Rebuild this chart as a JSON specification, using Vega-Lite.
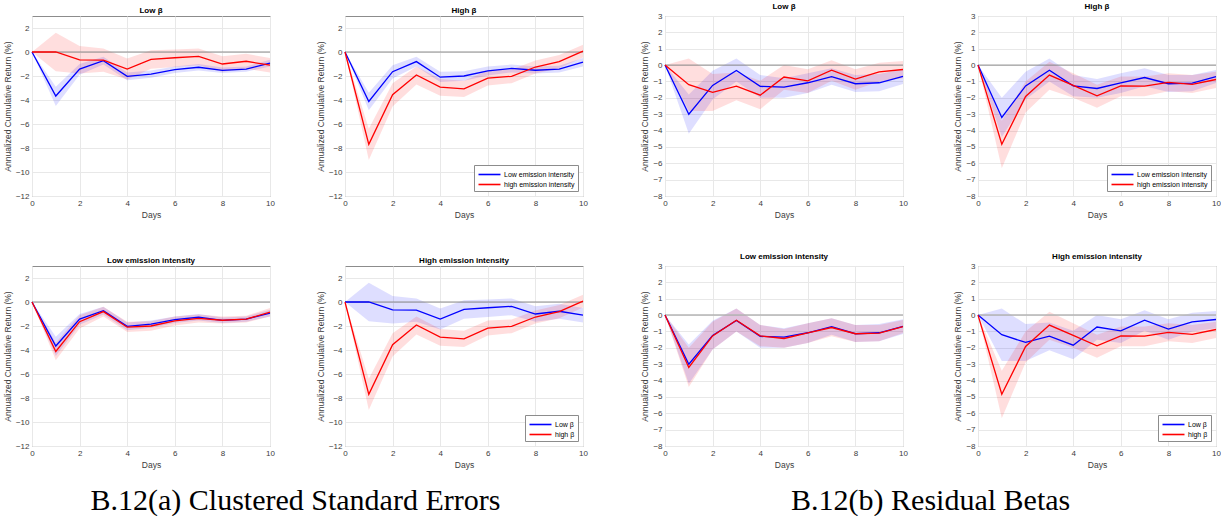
{
  "$schema": "https://vega.github.io/schema/vega-lite/v6.json",
  "padding": {"left": 2, "top": 2, "right": 0, "bottom": 0},
  "datasets": {
    "a": [
      {"beta": "Low β", "emis": "Low emission intensity", "day": 0, "m": 0, "lo": 0, "hi": 0},
      {"beta": "Low β", "emis": "Low emission intensity", "day": 1, "m": -3.67, "lo": -4.5, "hi": -2.9},
      {"beta": "Low β", "emis": "Low emission intensity", "day": 2, "m": -1.43, "lo": -1.9, "hi": -1.0},
      {"beta": "Low β", "emis": "Low emission intensity", "day": 3, "m": -0.73, "lo": -1.05, "hi": -0.4},
      {"beta": "Low β", "emis": "Low emission intensity", "day": 4, "m": -2.03, "lo": -2.35, "hi": -1.7},
      {"beta": "Low β", "emis": "Low emission intensity", "day": 5, "m": -1.85, "lo": -2.15, "hi": -1.55},
      {"beta": "Low β", "emis": "Low emission intensity", "day": 6, "m": -1.47, "lo": -1.75, "hi": -1.2},
      {"beta": "Low β", "emis": "Low emission intensity", "day": 7, "m": -1.27, "lo": -1.55, "hi": -1.0},
      {"beta": "Low β", "emis": "Low emission intensity", "day": 8, "m": -1.53, "lo": -1.75, "hi": -1.3},
      {"beta": "Low β", "emis": "Low emission intensity", "day": 9, "m": -1.43, "lo": -1.65, "hi": -1.2},
      {"beta": "Low β", "emis": "Low emission intensity", "day": 10, "m": -0.93, "lo": -1.2, "hi": -0.65},
      {"beta": "Low β", "emis": "high emission intensity", "day": 0, "m": 0, "lo": 0, "hi": 0},
      {"beta": "Low β", "emis": "high emission intensity", "day": 1, "m": 0.0, "lo": -1.6, "hi": 1.6},
      {"beta": "Low β", "emis": "high emission intensity", "day": 2, "m": -0.65, "lo": -1.8, "hi": 0.5},
      {"beta": "Low β", "emis": "high emission intensity", "day": 3, "m": -0.67, "lo": -1.65, "hi": 0.3},
      {"beta": "Low β", "emis": "high emission intensity", "day": 4, "m": -1.42, "lo": -2.3, "hi": -0.55},
      {"beta": "Low β", "emis": "high emission intensity", "day": 5, "m": -0.61, "lo": -1.4, "hi": 0.15},
      {"beta": "Low β", "emis": "high emission intensity", "day": 6, "m": -0.48, "lo": -1.25, "hi": 0.2},
      {"beta": "Low β", "emis": "high emission intensity", "day": 7, "m": -0.36, "lo": -1.1, "hi": 0.3},
      {"beta": "Low β", "emis": "high emission intensity", "day": 8, "m": -1.0, "lo": -1.65, "hi": -0.35},
      {"beta": "Low β", "emis": "high emission intensity", "day": 9, "m": -0.77, "lo": -1.4, "hi": -0.15},
      {"beta": "Low β", "emis": "high emission intensity", "day": 10, "m": -1.1, "lo": -1.7, "hi": -0.5},
      {"beta": "high β", "emis": "Low emission intensity", "day": 0, "m": 0, "lo": 0, "hi": 0},
      {"beta": "high β", "emis": "Low emission intensity", "day": 1, "m": -4.12, "lo": -4.85, "hi": -3.4},
      {"beta": "high β", "emis": "Low emission intensity", "day": 2, "m": -1.64, "lo": -2.2, "hi": -1.1},
      {"beta": "high β", "emis": "Low emission intensity", "day": 3, "m": -0.8, "lo": -1.2, "hi": -0.4},
      {"beta": "high β", "emis": "Low emission intensity", "day": 4, "m": -2.1, "lo": -2.5, "hi": -1.65},
      {"beta": "high β", "emis": "Low emission intensity", "day": 5, "m": -2.0, "lo": -2.4, "hi": -1.6},
      {"beta": "high β", "emis": "Low emission intensity", "day": 6, "m": -1.58, "lo": -1.95, "hi": -1.2},
      {"beta": "high β", "emis": "Low emission intensity", "day": 7, "m": -1.37, "lo": -1.7, "hi": -1.05},
      {"beta": "high β", "emis": "Low emission intensity", "day": 8, "m": -1.52, "lo": -1.8, "hi": -1.2},
      {"beta": "high β", "emis": "Low emission intensity", "day": 9, "m": -1.43, "lo": -1.7, "hi": -1.15},
      {"beta": "high β", "emis": "Low emission intensity", "day": 10, "m": -0.85, "lo": -1.2, "hi": -0.5},
      {"beta": "high β", "emis": "high emission intensity", "day": 0, "m": 0, "lo": 0, "hi": 0},
      {"beta": "high β", "emis": "high emission intensity", "day": 1, "m": -7.7, "lo": -9.0, "hi": -6.4},
      {"beta": "high β", "emis": "high emission intensity", "day": 2, "m": -3.56, "lo": -4.55, "hi": -2.6},
      {"beta": "high β", "emis": "high emission intensity", "day": 3, "m": -1.92, "lo": -2.7, "hi": -1.2},
      {"beta": "high β", "emis": "high emission intensity", "day": 4, "m": -2.92, "lo": -3.65, "hi": -2.25},
      {"beta": "high β", "emis": "high emission intensity", "day": 5, "m": -3.08, "lo": -3.75, "hi": -2.4},
      {"beta": "high β", "emis": "high emission intensity", "day": 6, "m": -2.17, "lo": -2.8, "hi": -1.55},
      {"beta": "high β", "emis": "high emission intensity", "day": 7, "m": -2.03, "lo": -2.6, "hi": -1.45},
      {"beta": "high β", "emis": "high emission intensity", "day": 8, "m": -1.25, "lo": -1.8, "hi": -0.7},
      {"beta": "high β", "emis": "high emission intensity", "day": 9, "m": -0.8, "lo": -1.35, "hi": -0.25},
      {"beta": "high β", "emis": "high emission intensity", "day": 10, "m": 0.08, "lo": -0.45, "hi": 0.6}
    ],
    "b": [
      {"beta": "Low β", "emis": "Low emission intensity", "day": 0, "m": 0, "lo": 0, "hi": 0},
      {"beta": "Low β", "emis": "Low emission intensity", "day": 1, "m": -3.0, "lo": -4.2, "hi": -1.8},
      {"beta": "Low β", "emis": "Low emission intensity", "day": 2, "m": -1.24, "lo": -2.1, "hi": -0.35},
      {"beta": "Low β", "emis": "Low emission intensity", "day": 3, "m": -0.33, "lo": -1.0, "hi": 0.4},
      {"beta": "Low β", "emis": "Low emission intensity", "day": 4, "m": -1.3, "lo": -2.0, "hi": -0.6},
      {"beta": "Low β", "emis": "Low emission intensity", "day": 5, "m": -1.35, "lo": -2.0, "hi": -0.8},
      {"beta": "Low β", "emis": "Low emission intensity", "day": 6, "m": -1.08, "lo": -1.7, "hi": -0.5},
      {"beta": "Low β", "emis": "Low emission intensity", "day": 7, "m": -0.71, "lo": -1.2, "hi": -0.2},
      {"beta": "Low β", "emis": "Low emission intensity", "day": 8, "m": -1.14, "lo": -1.65, "hi": -0.6},
      {"beta": "Low β", "emis": "Low emission intensity", "day": 9, "m": -1.08, "lo": -1.6, "hi": -0.55},
      {"beta": "Low β", "emis": "Low emission intensity", "day": 10, "m": -0.69, "lo": -1.15, "hi": -0.25},
      {"beta": "Low β", "emis": "high emission intensity", "day": 0, "m": 0, "lo": 0, "hi": 0},
      {"beta": "Low β", "emis": "high emission intensity", "day": 1, "m": -1.2, "lo": -2.8, "hi": 0.4},
      {"beta": "Low β", "emis": "high emission intensity", "day": 2, "m": -1.67, "lo": -2.8, "hi": -0.55},
      {"beta": "Low β", "emis": "high emission intensity", "day": 3, "m": -1.29, "lo": -2.15, "hi": -0.45},
      {"beta": "Low β", "emis": "high emission intensity", "day": 4, "m": -1.84, "lo": -2.7, "hi": -0.95},
      {"beta": "Low β", "emis": "high emission intensity", "day": 5, "m": -0.73, "lo": -1.5, "hi": 0.0},
      {"beta": "Low β", "emis": "high emission intensity", "day": 6, "m": -0.96, "lo": -1.7, "hi": -0.25},
      {"beta": "Low β", "emis": "high emission intensity", "day": 7, "m": -0.31, "lo": -0.95, "hi": 0.3},
      {"beta": "Low β", "emis": "high emission intensity", "day": 8, "m": -0.86, "lo": -1.5, "hi": -0.25},
      {"beta": "Low β", "emis": "high emission intensity", "day": 9, "m": -0.41, "lo": -1.0, "hi": 0.15},
      {"beta": "Low β", "emis": "high emission intensity", "day": 10, "m": -0.27, "lo": -0.8, "hi": 0.25},
      {"beta": "high β", "emis": "Low emission intensity", "day": 0, "m": 0, "lo": 0, "hi": 0},
      {"beta": "high β", "emis": "Low emission intensity", "day": 1, "m": -3.2, "lo": -4.4, "hi": -2.0},
      {"beta": "high β", "emis": "Low emission intensity", "day": 2, "m": -1.27, "lo": -2.1, "hi": -0.4},
      {"beta": "high β", "emis": "Low emission intensity", "day": 3, "m": -0.31, "lo": -1.0, "hi": 0.4},
      {"beta": "high β", "emis": "Low emission intensity", "day": 4, "m": -1.27, "lo": -1.9, "hi": -0.6},
      {"beta": "high β", "emis": "Low emission intensity", "day": 5, "m": -1.43, "lo": -2.0, "hi": -0.85},
      {"beta": "high β", "emis": "Low emission intensity", "day": 6, "m": -1.08, "lo": -1.7, "hi": -0.5},
      {"beta": "high β", "emis": "Low emission intensity", "day": 7, "m": -0.76, "lo": -1.3, "hi": -0.2},
      {"beta": "high β", "emis": "Low emission intensity", "day": 8, "m": -1.14, "lo": -1.65, "hi": -0.6},
      {"beta": "high β", "emis": "Low emission intensity", "day": 9, "m": -1.1, "lo": -1.6, "hi": -0.6},
      {"beta": "high β", "emis": "Low emission intensity", "day": 10, "m": -0.71, "lo": -1.1, "hi": -0.3},
      {"beta": "high β", "emis": "high emission intensity", "day": 0, "m": 0, "lo": 0, "hi": 0},
      {"beta": "high β", "emis": "high emission intensity", "day": 1, "m": -4.84, "lo": -6.3, "hi": -3.4},
      {"beta": "high β", "emis": "high emission intensity", "day": 2, "m": -1.92, "lo": -2.9, "hi": -1.0},
      {"beta": "high β", "emis": "high emission intensity", "day": 3, "m": -0.61, "lo": -1.5, "hi": 0.2},
      {"beta": "high β", "emis": "high emission intensity", "day": 4, "m": -1.24, "lo": -2.0, "hi": -0.5},
      {"beta": "high β", "emis": "high emission intensity", "day": 5, "m": -1.88, "lo": -2.6, "hi": -1.2},
      {"beta": "high β", "emis": "high emission intensity", "day": 6, "m": -1.27, "lo": -1.9, "hi": -0.7},
      {"beta": "high β", "emis": "high emission intensity", "day": 7, "m": -1.29, "lo": -1.9, "hi": -0.7},
      {"beta": "high β", "emis": "high emission intensity", "day": 8, "m": -1.06, "lo": -1.6, "hi": -0.5},
      {"beta": "high β", "emis": "high emission intensity", "day": 9, "m": -1.18, "lo": -1.7, "hi": -0.6},
      {"beta": "high β", "emis": "high emission intensity", "day": 10, "m": -0.88, "lo": -1.4, "hi": -0.4}
    ]
  },
  "spacing": 52,
  "resolve": {"scale": {"color": "independent"}, "legend": {"color": "independent"}},
  "hconcat": [
    {
      "title": {"text": "B.12(a) Clustered Standard Errors", "orient": "bottom", "anchor": "middle", "font": "Liberation Serif", "fontSize": 30, "fontWeight": "normal", "color": "#000", "offset": 17},
      "columns": 2,
      "spacing": {"column": 75, "row": 70},
      "bounds": "flush",
      "resolve": {"scale": {"color": "independent"}, "legend": {"color": "independent"}},
      "concat": [
        {
          "width": 238, "height": 180, "title": "Low β",
          "data": {"name": "a"},
          "transform": [{"filter": "datum.beta === 'Low β'"}],
          "layer": [
            {"transform": [{"filter": "datum.emis === 'Low emission intensity'"}],
             "mark": {"type": "area", "color": "#0000ff", "opacity": 0.13},
             "encoding": {
              "x": {"field": "day", "type": "quantitative", "scale": {"domain": [0, 10]}, "axis": {"tickCount": 5}, "title": "Days"},
              "y": {"field": "lo", "type": "quantitative", "scale": {"domain": [-12, 3], "nice": false}, "axis": {"tickCount": 8}, "title": "Annualized Cumulative Return (%)"},
              "y2": {"field": "hi"}}},
            {"transform": [{"filter": "datum.emis === 'high emission intensity'"}],
             "mark": {"type": "area", "color": "#ff0000", "opacity": 0.13},
             "encoding": {
              "x": {"field": "day", "type": "quantitative", "title": "Days"},
              "y": {"field": "lo", "type": "quantitative", "title": "Annualized Cumulative Return (%)"},
              "y2": {"field": "hi"}}},
            {"data": {"values": [{}]}, "mark": {"type": "rule", "color": "#8c8c8c", "strokeWidth": 1}, "encoding": {"y": {"datum": 0}}},
            {"mark": {"type": "line", "strokeWidth": 1.3}, "encoding": {
              "x": {"field": "day", "type": "quantitative", "title": "Days"},
              "y": {"field": "m", "type": "quantitative", "title": "Annualized Cumulative Return (%)"},
              "color": {"field": "emis", "type": "nominal", "scale": {"range": ["#0000ff", "#ff0000"]}, "legend": null}}}
          ]
        },
        {
          "width": 238, "height": 180, "title": "High β",
          "data": {"name": "a"},
          "transform": [{"filter": "datum.beta === 'high β'"}],
          "layer": [
            {"transform": [{"filter": "datum.emis === 'Low emission intensity'"}],
             "mark": {"type": "area", "color": "#0000ff", "opacity": 0.13},
             "encoding": {
              "x": {"field": "day", "type": "quantitative", "scale": {"domain": [0, 10]}, "axis": {"tickCount": 5}, "title": "Days"},
              "y": {"field": "lo", "type": "quantitative", "scale": {"domain": [-12, 3], "nice": false}, "axis": {"tickCount": 8}, "title": "Annualized Cumulative Return (%)"},
              "y2": {"field": "hi"}}},
            {"transform": [{"filter": "datum.emis === 'high emission intensity'"}],
             "mark": {"type": "area", "color": "#ff0000", "opacity": 0.13},
             "encoding": {
              "x": {"field": "day", "type": "quantitative", "title": "Days"},
              "y": {"field": "lo", "type": "quantitative", "title": "Annualized Cumulative Return (%)"},
              "y2": {"field": "hi"}}},
            {"data": {"values": [{}]}, "mark": {"type": "rule", "color": "#8c8c8c", "strokeWidth": 1}, "encoding": {"y": {"datum": 0}}},
            {"mark": {"type": "line", "strokeWidth": 1.3}, "encoding": {
              "x": {"field": "day", "type": "quantitative", "title": "Days"},
              "y": {"field": "m", "type": "quantitative", "title": "Annualized Cumulative Return (%)"},
              "color": {"field": "emis", "type": "nominal", "scale": {"range": ["#0000ff", "#ff0000"]}, "legend": {"orient": "bottom-right", "title": null}}}}
          ]
        },
        {
          "width": 238, "height": 180, "title": "Low emission intensity",
          "data": {"name": "a"},
          "transform": [{"filter": "datum.emis === 'Low emission intensity'"}],
          "layer": [
            {"transform": [{"filter": "datum.beta === 'Low β'"}],
             "mark": {"type": "area", "color": "#0000ff", "opacity": 0.13},
             "encoding": {
              "x": {"field": "day", "type": "quantitative", "scale": {"domain": [0, 10]}, "axis": {"tickCount": 5}, "title": "Days"},
              "y": {"field": "lo", "type": "quantitative", "scale": {"domain": [-12, 3], "nice": false}, "axis": {"tickCount": 8}, "title": "Annualized Cumulative Return (%)"},
              "y2": {"field": "hi"}}},
            {"transform": [{"filter": "datum.beta === 'high β'"}],
             "mark": {"type": "area", "color": "#ff0000", "opacity": 0.13},
             "encoding": {
              "x": {"field": "day", "type": "quantitative", "title": "Days"},
              "y": {"field": "lo", "type": "quantitative", "title": "Annualized Cumulative Return (%)"},
              "y2": {"field": "hi"}}},
            {"data": {"values": [{}]}, "mark": {"type": "rule", "color": "#8c8c8c", "strokeWidth": 1}, "encoding": {"y": {"datum": 0}}},
            {"mark": {"type": "line", "strokeWidth": 1.3}, "encoding": {
              "x": {"field": "day", "type": "quantitative", "title": "Days"},
              "y": {"field": "m", "type": "quantitative", "title": "Annualized Cumulative Return (%)"},
              "color": {"field": "beta", "type": "nominal", "scale": {"range": ["#0000ff", "#ff0000"]}, "legend": null}}}
          ]
        },
        {
          "width": 238, "height": 180, "title": "High emission intensity",
          "data": {"name": "a"},
          "transform": [{"filter": "datum.emis === 'high emission intensity'"}],
          "layer": [
            {"transform": [{"filter": "datum.beta === 'Low β'"}],
             "mark": {"type": "area", "color": "#0000ff", "opacity": 0.13},
             "encoding": {
              "x": {"field": "day", "type": "quantitative", "scale": {"domain": [0, 10]}, "axis": {"tickCount": 5}, "title": "Days"},
              "y": {"field": "lo", "type": "quantitative", "scale": {"domain": [-12, 3], "nice": false}, "axis": {"tickCount": 8}, "title": "Annualized Cumulative Return (%)"},
              "y2": {"field": "hi"}}},
            {"transform": [{"filter": "datum.beta === 'high β'"}],
             "mark": {"type": "area", "color": "#ff0000", "opacity": 0.13},
             "encoding": {
              "x": {"field": "day", "type": "quantitative", "title": "Days"},
              "y": {"field": "lo", "type": "quantitative", "title": "Annualized Cumulative Return (%)"},
              "y2": {"field": "hi"}}},
            {"data": {"values": [{}]}, "mark": {"type": "rule", "color": "#8c8c8c", "strokeWidth": 1}, "encoding": {"y": {"datum": 0}}},
            {"mark": {"type": "line", "strokeWidth": 1.3}, "encoding": {
              "x": {"field": "day", "type": "quantitative", "title": "Days"},
              "y": {"field": "m", "type": "quantitative", "title": "Annualized Cumulative Return (%)"},
              "color": {"field": "beta", "type": "nominal", "scale": {"range": ["#0000ff", "#ff0000"]}, "legend": {"orient": "bottom-right", "title": null}}}}
          ]
        }
      ]
    },
    {
      "title": {"text": "B.12(b) Residual Betas", "orient": "bottom", "anchor": "middle", "font": "Liberation Serif", "fontSize": 30, "fontWeight": "normal", "color": "#000", "offset": 17},
      "columns": 2,
      "spacing": {"column": 75, "row": 70},
      "bounds": "flush",
      "resolve": {"scale": {"color": "independent"}, "legend": {"color": "independent"}},
      "concat": [
        {
          "width": 238, "height": 180, "title": "Low β",
          "data": {"name": "b"},
          "transform": [{"filter": "datum.beta === 'Low β'"}],
          "layer": [
            {"transform": [{"filter": "datum.emis === 'Low emission intensity'"}],
             "mark": {"type": "area", "color": "#0000ff", "opacity": 0.13},
             "encoding": {
              "x": {"field": "day", "type": "quantitative", "scale": {"domain": [0, 10]}, "axis": {"tickCount": 5}, "title": "Days"},
              "y": {"field": "lo", "type": "quantitative", "scale": {"domain": [-8, 3], "nice": false}, "axis": {"tickCount": 11}, "title": "Annualized Cumulative Return (%)"},
              "y2": {"field": "hi"}}},
            {"transform": [{"filter": "datum.emis === 'high emission intensity'"}],
             "mark": {"type": "area", "color": "#ff0000", "opacity": 0.13},
             "encoding": {
              "x": {"field": "day", "type": "quantitative", "title": "Days"},
              "y": {"field": "lo", "type": "quantitative", "title": "Annualized Cumulative Return (%)"},
              "y2": {"field": "hi"}}},
            {"data": {"values": [{}]}, "mark": {"type": "rule", "color": "#8c8c8c", "strokeWidth": 1}, "encoding": {"y": {"datum": 0}}},
            {"mark": {"type": "line", "strokeWidth": 1.3}, "encoding": {
              "x": {"field": "day", "type": "quantitative", "title": "Days"},
              "y": {"field": "m", "type": "quantitative", "title": "Annualized Cumulative Return (%)"},
              "color": {"field": "emis", "type": "nominal", "scale": {"range": ["#0000ff", "#ff0000"]}, "legend": null}}}
          ]
        },
        {
          "width": 238, "height": 180, "title": "High β",
          "data": {"name": "b"},
          "transform": [{"filter": "datum.beta === 'high β'"}],
          "layer": [
            {"transform": [{"filter": "datum.emis === 'Low emission intensity'"}],
             "mark": {"type": "area", "color": "#0000ff", "opacity": 0.13},
             "encoding": {
              "x": {"field": "day", "type": "quantitative", "scale": {"domain": [0, 10]}, "axis": {"tickCount": 5}, "title": "Days"},
              "y": {"field": "lo", "type": "quantitative", "scale": {"domain": [-8, 3], "nice": false}, "axis": {"tickCount": 11}, "title": "Annualized Cumulative Return (%)"},
              "y2": {"field": "hi"}}},
            {"transform": [{"filter": "datum.emis === 'high emission intensity'"}],
             "mark": {"type": "area", "color": "#ff0000", "opacity": 0.13},
             "encoding": {
              "x": {"field": "day", "type": "quantitative", "title": "Days"},
              "y": {"field": "lo", "type": "quantitative", "title": "Annualized Cumulative Return (%)"},
              "y2": {"field": "hi"}}},
            {"data": {"values": [{}]}, "mark": {"type": "rule", "color": "#8c8c8c", "strokeWidth": 1}, "encoding": {"y": {"datum": 0}}},
            {"mark": {"type": "line", "strokeWidth": 1.3}, "encoding": {
              "x": {"field": "day", "type": "quantitative", "title": "Days"},
              "y": {"field": "m", "type": "quantitative", "title": "Annualized Cumulative Return (%)"},
              "color": {"field": "emis", "type": "nominal", "scale": {"range": ["#0000ff", "#ff0000"]}, "legend": {"orient": "bottom-right", "title": null}}}}
          ]
        },
        {
          "width": 238, "height": 180, "title": "Low emission intensity",
          "data": {"name": "b"},
          "transform": [{"filter": "datum.emis === 'Low emission intensity'"}],
          "layer": [
            {"transform": [{"filter": "datum.beta === 'Low β'"}],
             "mark": {"type": "area", "color": "#0000ff", "opacity": 0.13},
             "encoding": {
              "x": {"field": "day", "type": "quantitative", "scale": {"domain": [0, 10]}, "axis": {"tickCount": 5}, "title": "Days"},
              "y": {"field": "lo", "type": "quantitative", "scale": {"domain": [-8, 3], "nice": false}, "axis": {"tickCount": 11}, "title": "Annualized Cumulative Return (%)"},
              "y2": {"field": "hi"}}},
            {"transform": [{"filter": "datum.beta === 'high β'"}],
             "mark": {"type": "area", "color": "#ff0000", "opacity": 0.13},
             "encoding": {
              "x": {"field": "day", "type": "quantitative", "title": "Days"},
              "y": {"field": "lo", "type": "quantitative", "title": "Annualized Cumulative Return (%)"},
              "y2": {"field": "hi"}}},
            {"data": {"values": [{}]}, "mark": {"type": "rule", "color": "#b4b4b4", "strokeWidth": 1.5}, "encoding": {"y": {"datum": 0}}},
            {"mark": {"type": "line", "strokeWidth": 1.3}, "encoding": {
              "x": {"field": "day", "type": "quantitative", "title": "Days"},
              "y": {"field": "m", "type": "quantitative", "title": "Annualized Cumulative Return (%)"},
              "color": {"field": "beta", "type": "nominal", "scale": {"range": ["#0000ff", "#ff0000"]}, "legend": null}}}
          ]
        },
        {
          "width": 238, "height": 180, "title": "High emission intensity",
          "data": {"name": "b"},
          "transform": [{"filter": "datum.emis === 'high emission intensity'"}],
          "layer": [
            {"transform": [{"filter": "datum.beta === 'Low β'"}],
             "mark": {"type": "area", "color": "#0000ff", "opacity": 0.13},
             "encoding": {
              "x": {"field": "day", "type": "quantitative", "scale": {"domain": [0, 10]}, "axis": {"tickCount": 5}, "title": "Days"},
              "y": {"field": "lo", "type": "quantitative", "scale": {"domain": [-8, 3], "nice": false}, "axis": {"tickCount": 11}, "title": "Annualized Cumulative Return (%)"},
              "y2": {"field": "hi"}}},
            {"transform": [{"filter": "datum.beta === 'high β'"}],
             "mark": {"type": "area", "color": "#ff0000", "opacity": 0.13},
             "encoding": {
              "x": {"field": "day", "type": "quantitative", "title": "Days"},
              "y": {"field": "lo", "type": "quantitative", "title": "Annualized Cumulative Return (%)"},
              "y2": {"field": "hi"}}},
            {"data": {"values": [{}]}, "mark": {"type": "rule", "color": "#b4b4b4", "strokeWidth": 1.5}, "encoding": {"y": {"datum": 0}}},
            {"mark": {"type": "line", "strokeWidth": 1.3}, "encoding": {
              "x": {"field": "day", "type": "quantitative", "title": "Days"},
              "y": {"field": "m", "type": "quantitative", "title": "Annualized Cumulative Return (%)"},
              "color": {"field": "beta", "type": "nominal", "scale": {"range": ["#0000ff", "#ff0000"]}, "legend": {"orient": "bottom-right", "title": null}}}}
          ]
        }
      ]
    }
  ],
  "config": {
    "font": "Liberation Sans",
    "background": "white",
    "view": {"stroke": "#8c8c8c", "strokeWidth": 1},
    "axis": {
      "domain": false, "ticks": false, "grid": true, "gridColor": "#e8e8e8",
      "labelFont": "Liberation Sans", "labelFontSize": 8, "labelColor": "#3c3c3c", "labelPadding": 3, "labelFlush": false, "labelOverlap": false,
      "titleFont": "Liberation Sans", "titleFontSize": 8.5, "titleFontWeight": "normal", "titleColor": "#3c3c3c", "titlePadding": 3
    },
    "title": {"font": "Liberation Sans", "fontSize": 8, "fontWeight": "bold", "color": "#000", "offset": 1},
    "legend": {
      "orient": "bottom-right", "offset": 5, "padding": 3, "rowPadding": -4,
      "strokeColor": "#8c8c8c", "fillColor": "white",
      "labelFont": "Liberation Sans", "labelFontSize": 7, "labelColor": "#000", "labelLimit": 200,
      "symbolType": "M-2,0H2", "symbolSize": 121, "symbolOffset": 6, "labelOffset": 8,
      "symbolStrokeWidth": 1.6, "symbolOpacity": 1
    }
  }
}
